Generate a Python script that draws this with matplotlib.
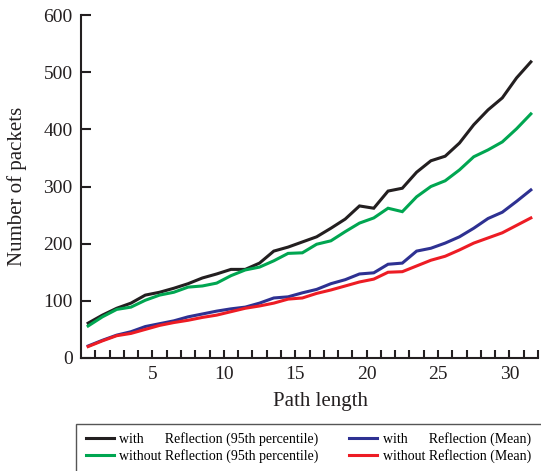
import numpy as np
import matplotlib
matplotlib.use("Agg")
import matplotlib.pyplot as plt
from matplotlib.patches import Rectangle

plt.rcParams['font.family'] = ['Liberation Serif', 'DejaVu Serif']

# path length bins (centred between integer ticks)
path_len = np.arange(1, 33) - 0.5

refl_95 = [61, 75, 87, 96, 110, 115, 122, 130, 140, 147, 155, 155, 166, 187, 194, 203,
           212, 227, 243, 266, 262, 292, 297, 325, 345, 353, 376, 408, 434, 455, 490, 518]
norefl_95 = [56, 72, 85, 89, 101, 110, 115, 124, 126, 131, 144, 154, 159, 170, 183, 184,
             199, 205, 221, 236, 245, 262, 256, 282, 300, 310, 329, 352, 364, 378, 401, 427]
refl_mean = [21, 31, 40, 46, 55, 60, 65, 72, 77, 82, 86, 89, 96, 105, 107, 114,
             120, 130, 137, 147, 149, 164, 166, 187, 192, 201, 212, 227, 244, 255, 274, 294]
norefl_mean = [20, 30, 39, 43, 50, 57, 62, 66, 71, 75, 81, 87, 91, 96, 103, 105,
               113, 119, 126, 133, 138, 150, 151, 161, 171, 178, 189, 201, 210, 219, 232, 245]

labels = ["with      Reflection (95th percentile)",
          "without Reflection (95th percentile)",
          "with      Reflection (Mean)",
          "without Reflection (Mean)"]
colors = ["#231f20", "#00a651", "#2e3192", "#ed1c24"]

fig = plt.figure(figsize=(5.41, 4.71), dpi=100)
ax = fig.add_axes([81/541, 1 - 358/471, 457/541, 343/471])

for ys, c, lab in zip([refl_95, norefl_95, refl_mean, norefl_mean], colors, labels):
    ax.plot(path_len, ys, color=c, lw=2.2, label=lab, solid_joinstyle='miter')

ax.set_xlim(0, 32)
ax.set_ylim(0, 600)
ax.spines['top'].set_visible(False)
ax.spines['right'].set_visible(False)
for s in ['left', 'bottom']:
    ax.spines[s].set_linewidth(1.5)
    ax.spines[s].set_color('#231f20')

ax.set_yticks(np.arange(0, 601, 100))
ax.set_xticks([5, 10, 15, 20, 25, 30])
ax.set_xticks(np.arange(1, 33), minor=True)
ax.tick_params(axis='y', direction='in', length=7, width=1.5, pad=6,
               labelsize=14, colors='#231f20')
ax.tick_params(axis='x', which='both', direction='in', length=6, width=1.5,
               pad=6, labelsize=14, colors='#231f20')

ax.set_xlabel("Path length", fontsize=15, color='#231f20')
ax.xaxis.set_label_coords(0.523, -0.10)
ax.set_ylabel("Number of packets", fontsize=15, color='#231f20')
ax.yaxis.set_label_coords(-0.118, 0.5)

# legend frame running off the figure edge
fig.patches.append(Rectangle((76/541, -0.05), 0.95, (471 - 424)/471 + 0.05,
                             transform=fig.transFigure, fill=False,
                             edgecolor='#555555', lw=1.0))
fig.legend(loc='upper left', bbox_to_anchor=(86/541, 1 - 432/471), ncol=2,
           frameon=False, fontsize=10, handlelength=2.0, handletextpad=0.4,
           columnspacing=2.2, labelspacing=0.2, borderaxespad=0, borderpad=0)

fig.savefig("out.png", dpi=100)
